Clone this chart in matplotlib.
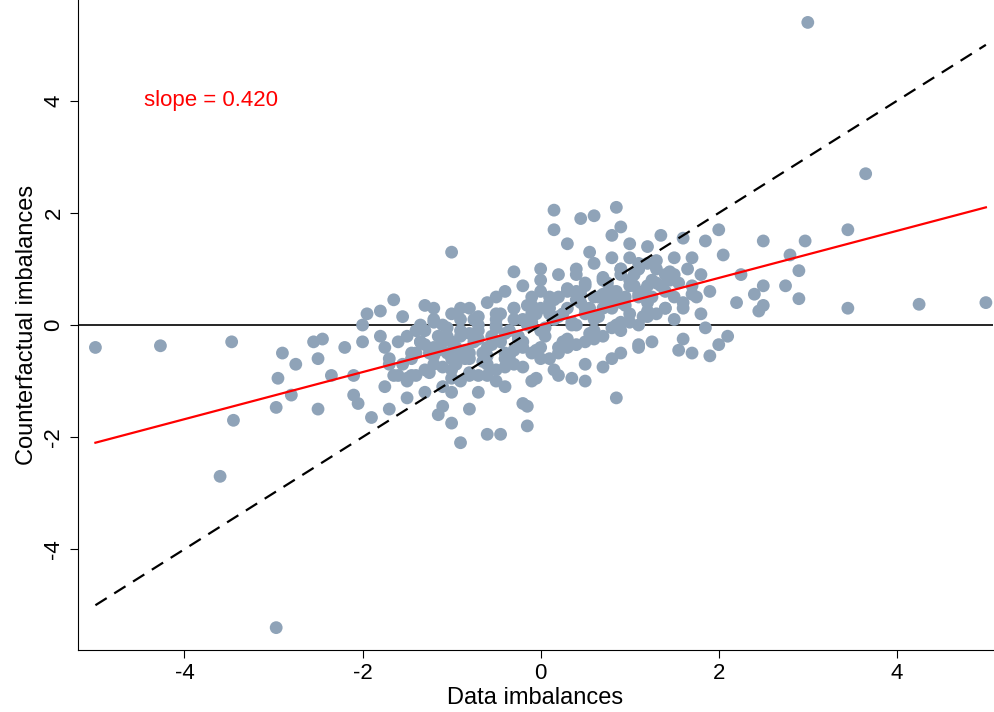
import numpy as np
import matplotlib.pyplot as plt

plt.rcParams['font.family'] = ['Liberation Sans', 'DejaVu Sans']
plt.rcParams['axes.unicode_minus'] = False

# outliers and sparse points
x_sparse = [-5.0, -4.27, -3.47, -3.45, -3.6, -2.97, 3.0, 3.65, 3.45, 3.45, 4.25, 5.0,
            2.97, 2.9, 2.9, 2.75, 2.8, 2.5, 2.5, 2.5, 2.45, 2.4, 2.25, 2.2,
            -2.9, -2.95, -2.75, -2.8, -2.97, -2.5, -2.5, -2.55, -2.45, -2.35, -2.2,
            -1.0, 0.15, 0.6, 0.85, 0.9, 0.15, 0.45, -0.9, -0.45, -0.6, -0.15, -0.15, 0.85,
            -1.0, -1.9, -1.7, 1.35, 1.6, 1.85, 2.0, 1.7, 2.05, 1.55, 1.7, 1.9, 2.0, 2.1,
            1.85, 1.6, 1.1, 1.25, -2.0, -2.0, -1.95, -1.65, -1.8, -1.55, -1.3, -1.2,
            -1.5, -1.3, -1.1, -1.15, -0.8, -2.1, -2.1, -2.05, -1.75, -1.45, -1.2, -1.7,
            -1.35, -1.05, -0.3, 0.0, 0.3, 0.55, 0.8, 1.0, 1.2, 1.1, 1.4, 1.5, 1.8, 1.9,
            0.5, 0.35, 0.7, 0.9, -0.5, -0.8, -0.2, -0.05, 0.15]
y_sparse = [-0.4, -0.37, -0.3, -1.7, -2.7, -5.4, 5.4, 2.7, 1.7, 0.3, 0.37, 0.4,
            1.5, 0.97, 0.47, 0.7, 1.25, 1.5, 0.7, 0.35, 0.25, 0.55, 0.9, 0.4,
            -0.5, -0.95, -0.7, -1.25, -1.47, -1.5, -0.6, -0.3, -0.25, -0.9, -0.4,
            1.3, 2.05, 1.95, 2.1, 1.75, 1.7, 1.9, -2.1, -1.95, -1.95, -1.8, -1.45, -1.3,
            -1.75, -1.65, -1.5, 1.6, 1.55, 1.5, 1.7, 1.2, 1.25, -0.45, -0.5, -0.55, -0.35, -0.2,
            -0.05, -0.25, -0.35, -0.3, 0.0, -0.3, 0.2, 0.45, 0.25, 0.15, 0.35, 0.3,
            -1.3, -1.2, -1.45, -1.6, -1.5, -1.25, -0.9, -1.4, -1.1, -0.9, -0.55, -0.7,
            -0.3, -0.2, 0.95, 1.0, 1.45, 1.3, 1.6, 1.45, 1.4, 1.0, 0.9, 1.2, 0.9, 0.6,
            -1.0, -0.95, -0.75, -0.5, -1.0, -0.9, -1.4, -0.95, -0.8]

# dense central cloud, estimated
x_dense = [-1.5, -1.4, -1.3, -1.2, -1.1, -1.0, -0.9, -0.8, -0.7, -0.6, -0.5, -0.4, -0.3, -0.2, -0.1,
           0.0, 0.1, 0.2, 0.3, 0.4, 0.5, 0.6, 0.7, 0.8, 0.9, 1.0, 1.1, 1.2, 1.3, 1.4, 1.5,
           -1.5, -1.4, -1.3, -1.2, -1.1, -1.0, -0.9, -0.8, -0.7, -0.6, -0.5, -0.4, -0.3, -0.2, -0.1,
           0.0, 0.1, 0.2, 0.3, 0.4, 0.5, 0.6, 0.7, 0.8, 0.9, 1.0, 1.1, 1.2, 1.3, 1.4, 1.5,
           -1.45, -1.35, -1.25, -1.15, -1.05, -0.95, -0.85, -0.75, -0.65, -0.55, -0.45, -0.35, -0.25, -0.15, -0.05,
           0.05, 0.15, 0.25, 0.35, 0.45, 0.55, 0.65, 0.75, 0.85, 0.95, 1.05, 1.15, 1.25, 1.35, 1.45,
           -1.2, -1.0, -0.8, -0.6, -0.4, -0.2, 0.0, 0.2, 0.4, 0.6, 0.8, 1.0, 1.2,
           -1.1, -0.9, -0.7, -0.5, -0.3, -0.1, 0.1, 0.3, 0.5, 0.7, 0.9, 1.1,
           -1.0, -0.7, -0.4, -0.1, 0.2, 0.5, 0.8, 1.1, -0.9, -0.5, 0.0, 0.4, 0.9,
           1.6, 1.7, 1.8, 1.65, 1.75, -1.6, -1.7, -1.8, -1.65, -1.75,
           -1.3, -1.15, -1.0, -0.85, -0.7, -0.55, -0.4, -0.25, -0.1, 0.05, 0.2, 0.35, 0.5, 0.65, 0.8, 0.95, 1.1, 1.25,
           -1.25, -1.1, -0.95, -0.8, -0.65, -0.5, -0.35, -0.2, -0.05, 0.1, 0.25, 0.4, 0.55, 0.7, 0.85, 1.0, 1.15, 1.3,
           -1.35, -1.2, -1.05, -0.9, -0.75, -0.6, -0.45, -0.3, -0.15, 0.0, 0.15, 0.3, 0.45, 0.6, 0.75, 0.9, 1.05, 1.2,
           -1.0, -0.8, -0.6, -0.4, -0.2, 0.0, 0.2, 0.4, 0.6, 0.8, 1.0, 1.2, 1.4,
           -0.9, -0.7, -0.5, -0.3, -0.1, 0.1, 0.3, 0.5, 0.7, 0.9, 1.1, 1.3,
           1.5, 1.6, 1.7, 1.55, 1.45, -1.55, -1.45, -1.6, -1.4, -1.5]
y_dense = [-0.2, -0.5, -0.1, -0.7, -0.3, -0.8, -0.2, -0.6, -0.1, -0.4, 0.1, -0.5, 0.3, -0.3, 0.5,
           -0.1, 0.4, -0.4, 0.6, 0.0, 0.7, 0.1, 0.8, 0.3, 0.9, 0.2, 1.1, 0.4, 1.0, 0.6, 0.9,
           -1.0, -0.9, -0.8, 0.1, -1.1, 0.2, -1.0, 0.3, -0.9, 0.4, -0.8, 0.6, -0.7, 0.7, -0.5,
           0.8, -0.6, 0.9, -0.4, 1.0, -0.3, 1.1, -0.2, 1.2, -0.1, 1.2, 0.0, 1.1, 0.2, 0.3, 0.5,
           -0.6, -0.3, -0.5, -0.2, -0.5, -0.4, -0.6, -0.3, -0.5, -0.2, -0.3, -0.1, -0.2, 0.0, 0.2,
           -0.2, 0.1, 0.2, 0.0, 0.4, 0.3, 0.5, 0.4, 0.6, 0.5, 0.7, 0.6, 0.8, 0.7, 0.8,
           -0.4, -0.6, -0.5, -0.7, -0.6, -0.4, 0.3, 0.5, 0.6, 0.5, 0.6, 0.8, 0.7,
           0.0, -0.1, 0.0, 0.0, 0.1, 0.2, 0.2, 0.3, 0.2, 0.3, 0.4, 0.5,
           -1.2, -1.2, -1.1, -1.0, -0.9, -0.7, -0.6, -0.4, 0.3, 0.5, 0.6, 0.9, 1.0,
           0.4, 0.7, 0.2, 1.0, 0.5, -0.3, -0.6, -0.2, -0.9, -0.4,
           -0.35, -0.45, -0.3, -0.45, -0.25, -0.35, -0.15, -0.25, 0.05, -0.05, 0.15, 0.05, 0.3, 0.15, 0.45, 0.35, 0.55, 0.5,
           -0.85, -0.75, -0.7, -0.15, -0.65, -0.05, -0.55, 0.1, -0.45, 0.3, -0.3, 0.45, -0.15, 0.55, 0.0, 0.7, 0.15, 0.75,
           0.0, 0.05, -0.05, -0.55, 0.1, -0.55, 0.2, -0.45, 0.35, -0.4, 0.45, -0.25, 0.55, -0.1, 0.75, 0.05, 0.9, 0.25,
           -0.95, -0.85, -0.9, -0.75, -0.75, -0.6, -0.5, -0.35, -0.25, -0.05, 0.05, 0.15, 0.3,
           0.1, 0.15, 0.2, 0.3, 0.35, 0.5, 0.65, 0.75, 0.85, 1.0, 1.0, 1.15,
           0.1, 0.3, 0.55, 0.75, 0.95, -0.7, -0.5, -0.9, -0.1, -0.95]

diag_x = [-5.0, 5.0]
diag_y = [-5.0, 5.0]
fit_slope = 0.420
fit_x = np.array([-5.0, 5.0])


def main():
    fig = plt.figure(figsize=(9.95, 7.12), dpi=100)
    ax = fig.add_axes([0.078, 0.087, 0.92, 0.913])
    ax.axhline(0, color='black', lw=1.2, zorder=1)
    ax.scatter(x_sparse + x_dense, y_sparse + y_dense, s=85, color='#8fa3b8',
               edgecolors='none', zorder=2)
    ax.plot(diag_x, diag_y, color='black', ls=(0, (6, 4)), lw=1.6, zorder=3)
    ax.plot(fit_x, fit_slope * fit_x, color='red', lw=1.6, zorder=4)
    ax.text(-4.45, 4.0, 'slope = %.3f' % fit_slope, color='red', fontsize=16, va='center')

    ax.set_xlim(-5.2, 5.08)
    ax.set_ylim(-5.8, 5.8)
    ax.set_xticks([-4, -2, 0, 2, 4])
    ax.set_yticks([-4, -2, 0, 2, 4])
    ax.tick_params(labelsize=16, length=6)
    for lab in ax.get_yticklabels():
        lab.set_rotation(90)
        lab.set_va('center')
    ax.spines['top'].set_visible(False)
    ax.spines['right'].set_visible(False)
    ax.set_xlabel('Data imbalances', fontsize=17, labelpad=2)
    ax.set_ylabel('Counterfactual imbalances', fontsize=17, labelpad=4)
    fig.savefig('out.png', dpi=100)


if __name__ == "__main__":
    main()
